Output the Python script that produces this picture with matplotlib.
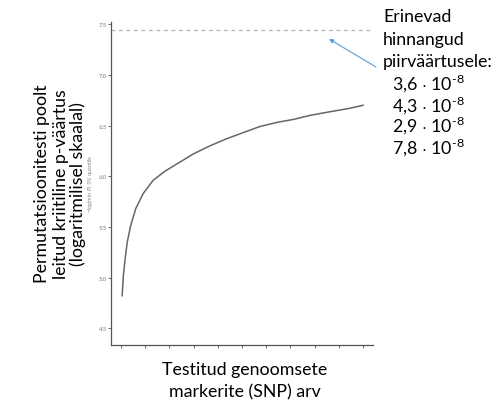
import numpy as np
import matplotlib
matplotlib.use("Agg")
import matplotlib.pyplot as plt

plt.rcParams['font.family'] = ['Lato', 'DejaVu Sans']
plt.rcParams['mathtext.fontset'] = 'custom'
plt.rcParams['mathtext.rm'] = 'Lato'

# curve (x = tick index, y = -log10 p)
n_snp = [1.05, 1.10, 1.17, 1.26, 1.40, 1.61, 1.92, 2.33, 2.82, 3.51,
         3.99, 4.68, 5.37, 6.05, 6.74, 7.43, 8.12, 8.81, 9.50, 10.46, 11.01]
quant = [4.82, 5.02, 5.18, 5.35, 5.51, 5.68, 5.83, 5.96, 6.05, 6.15,
         6.22, 6.30, 6.37, 6.43, 6.49, 6.53, 6.56, 6.60, 6.63, 6.67, 6.70]
threshold = 7.44
yticks = [4.5, 5.0, 5.5, 6.0, 6.5, 7.0, 7.5]
xticks = list(range(1, 12))

ylab_lines = ["Permutatsioonitesti poolt", "leitud kriitiline p-väärtus",
              "(logaritmilisel skaalal)"]
xlab_lines = ["Testitud genoomsete", "markerite (SNP) arv"]
note_head = ["Erinevad", "hinnangud", "piirväärtusele:"]
note_vals = ["3,6", "4,3", "2,9", "7,8"]

W, H = 504, 402
fig = plt.figure(figsize=(W/100, H/100), dpi=100)
ax = fig.add_axes([111/W, 1-346/H, 262/W, 323/H])

ax.plot(n_snp, quant, color='#666666', lw=1.1, solid_capstyle='round',
        solid_joinstyle='round')
ax.axhline(threshold, color='#b0b0b0', lw=0.9, ls=(0, (3, 3)))

ax.set_xlim(0.59, 11.41)
ax.set_ylim(4.337, 7.52)
ax.set_xticks(xticks)
ax.set_xticklabels([])
ax.set_yticks(yticks)
ax.set_yticklabels([f"{v:.1f}" for v in yticks])
ax.tick_params(length=2, width=0.6, color='#555555', labelsize=4.2,
               labelcolor='#777777', pad=1)
for s in ['top', 'right']:
    ax.spines[s].set_visible(False)
for s in ['left', 'bottom']:
    ax.spines[s].set_color('#555555')
    ax.spines[s].set_linewidth(0.9)

# small original axis title
fig.text(90/W, 1-184/H, r"$-$log(min $P$) 5% quantile", rotation=90,
         ha='center', va='center', fontsize=4, color='#888888')

# big y label, one line at a time
for xb, txt in zip([46.7, 65.7, 83.3], ylab_lines):
    fig.text(xb/W, 1-184/H, txt, rotation=90, rotation_mode='anchor',
             ha='center', va='baseline', fontsize=12.8)

for yb, txt in zip([375, 397], xlab_lines):
    fig.text(245/W, 1-yb/H, txt, ha='center', va='baseline', fontsize=12.8)

for yb, txt in zip([21.7, 44.5, 66.7], note_head):
    fig.text(383/W, 1-yb/H, txt, ha='left', va='baseline', fontsize=12.8)
for yb, txt in zip([90, 111.5, 132, 153.3], note_vals):
    fig.text(392/W, 1-yb/H, txt + r" $\cdot$ 10$^{\text{-8}}$",
             ha='left', va='baseline', fontsize=12.8)

ax.annotate("", xy=(329/W, 1-40/H), xytext=(376/W, 1-68/H),
            xycoords='figure fraction', textcoords='figure fraction',
            arrowprops=dict(arrowstyle='-|>', color='#5b9bd5', lw=0.8,
                            mutation_scale=6, shrinkA=0, shrinkB=0))

fig.savefig("out.png", dpi=100)
